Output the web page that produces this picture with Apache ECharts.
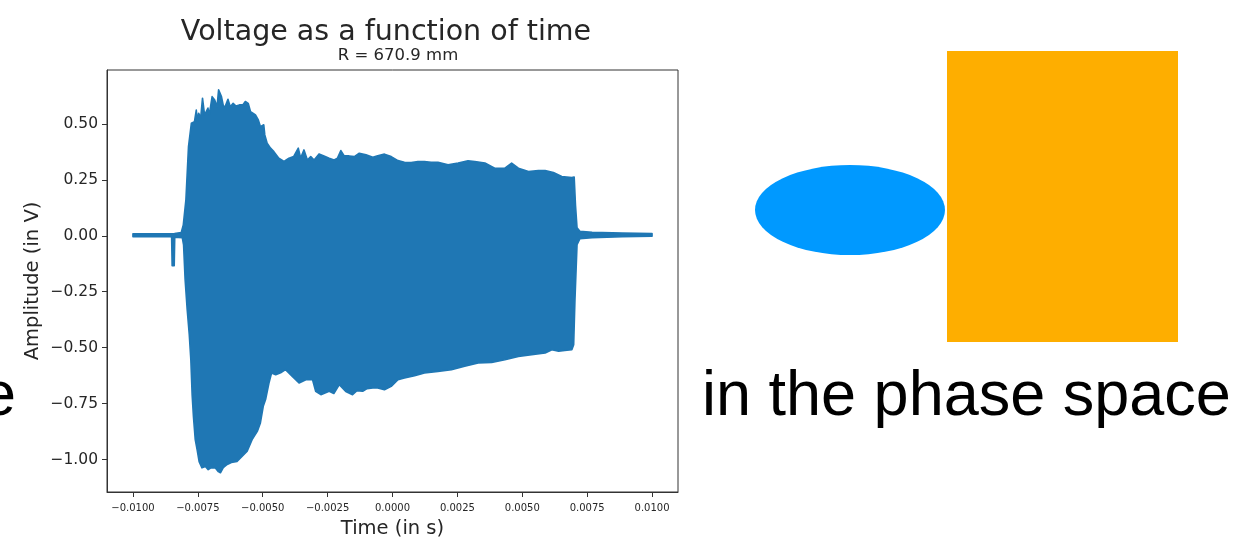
<!DOCTYPE html>
<html>
<head>
<meta charset="utf-8">
<script src="https://cdn.jsdelivr.net/npm/echarts@6/dist/echarts.min.js"></script>
<style>
  html, body { margin: 0; padding: 0; background: #ffffff; }
  #chart { width: 1256px; height: 540px; }
</style>
</head>
<body>
<div id="chart"></div>
<script>
// Upper and lower envelope of the recorded voltage trace (time in s, amplitude in V)
const upperTime = [-0.0100, -0.0090, -0.0084, -0.00814, -0.00806, -0.00796, -0.00786, -0.00775, -0.00763, -0.00756,
  -0.00752, -0.00747, -0.00739, -0.00732, -0.00724, -0.00711, -0.00706, -0.00695, -0.00685, -0.00676,
  -0.00670, -0.00659, -0.00651, -0.00644, -0.00634, -0.00625, -0.00614, -0.00603, -0.00590, -0.00577,
  -0.00567, -0.00556, -0.00547, -0.00538, -0.00528, -0.00517, -0.00509, -0.00496, -0.00492, -0.00483,
  -0.00470, -0.00457, -0.00438, -0.00418, -0.00399, -0.00381, -0.00363, -0.00354, -0.00341, -0.00328,
  -0.00315, -0.00302, -0.00283, -0.00264, -0.00244, -0.00225, -0.00212, -0.00199, -0.00186, -0.00167,
  -0.00147, -0.00128, -0.00102, -0.00076, -0.00057, -0.00031, -0.00005, 0.00021, 0.00046, 0.00072,
  0.00098, 0.00123, 0.00149, 0.00175, 0.00214, 0.00253, 0.00291, 0.00317, 0.00356, 0.00394,
  0.00433, 0.00459, 0.00485, 0.00524, 0.00562, 0.00588, 0.00620, 0.00652, 0.00691, 0.00700,
  0.00705, 0.00711, 0.00722, 0.00769, 0.00885, 0.0100];
const upperVolt = [0.009, 0.009, 0.010, 0.015, 0.049, 0.161, 0.399, 0.503, 0.510, 0.562,
  0.513, 0.548, 0.527, 0.615, 0.540, 0.571, 0.540, 0.622, 0.607, 0.577,
  0.652, 0.622, 0.577, 0.580, 0.610, 0.577, 0.592, 0.580, 0.585, 0.585,
  0.600, 0.592, 0.555, 0.548, 0.540, 0.518, 0.488, 0.496, 0.451, 0.414,
  0.392, 0.376, 0.347, 0.332, 0.347, 0.354, 0.392, 0.348, 0.384, 0.339,
  0.354, 0.339, 0.366, 0.357, 0.347, 0.339, 0.347, 0.381, 0.357, 0.357,
  0.354, 0.369, 0.362, 0.351, 0.358, 0.365, 0.354, 0.336, 0.329, 0.327,
  0.332, 0.332, 0.329, 0.329, 0.317, 0.325, 0.335, 0.332, 0.325, 0.302,
  0.302, 0.325, 0.302, 0.287, 0.292, 0.292, 0.283, 0.265, 0.260, 0.263,
  0.138, 0.036, 0.020, 0.016, 0.012, 0.010];

const lowerTime = [-0.0100, -0.00857, -0.00851, -0.00849, -0.00841, -0.00839, -0.00810, -0.00805, -0.00799, -0.00791,
  -0.00783, -0.00777, -0.00772, -0.00767, -0.00760, -0.00753, -0.00745, -0.00734, -0.00721, -0.00710,
  -0.00698, -0.00683, -0.00671, -0.00663, -0.00652, -0.00637, -0.00621, -0.00599, -0.00579, -0.00560,
  -0.00541, -0.00521, -0.00509, -0.00498, -0.00489, -0.00476, -0.00466, -0.00450, -0.00431, -0.00412,
  -0.00386, -0.00360, -0.00334, -0.00308, -0.00296, -0.00276, -0.00244, -0.00226, -0.00205, -0.00180,
  -0.00154, -0.00137, -0.00115, -0.00098, -0.00076, -0.00057, -0.00031, -0.00005, 0.00021, 0.00046,
  0.00085, 0.00123, 0.00175, 0.00227, 0.00278, 0.00330, 0.00382, 0.00433, 0.00485, 0.00536,
  0.00588, 0.00614, 0.00640, 0.00672, 0.00691, 0.00698, 0.00703, 0.00711, 0.00722, 0.00769,
  0.00885, 0.0100];
const lowerVolt = [-0.004, -0.004, -0.005, -0.134, -0.134, -0.006, -0.008, -0.040, -0.196, -0.330,
  -0.442, -0.554, -0.710, -0.807, -0.911, -0.955, -1.009, -1.037, -1.031, -1.045,
  -1.036, -1.037, -1.054, -1.059, -1.036, -1.022, -1.013, -1.008, -0.985, -0.963,
  -0.911, -0.874, -0.836, -0.762, -0.732, -0.658, -0.613, -0.621, -0.612, -0.598,
  -0.628, -0.658, -0.643, -0.643, -0.695, -0.710, -0.695, -0.705, -0.665, -0.696,
  -0.710, -0.692, -0.695, -0.683, -0.680, -0.680, -0.688, -0.673, -0.643, -0.635,
  -0.625, -0.613, -0.606, -0.598, -0.583, -0.568, -0.566, -0.554, -0.539, -0.531,
  -0.524, -0.509, -0.516, -0.511, -0.509, -0.487, -0.286, -0.040, -0.013, -0.009,
  -0.004, -0.002];

// Tick positions
const timeTicks = [-0.01, -0.0075, -0.005, -0.0025, 0, 0.0025, 0.005, 0.0075, 0.01];
const voltTicks = [-1.0, -0.75, -0.5, -0.25, 0, 0.25, 0.5];

const titleText = 'Voltage as a function of time';
const subtitleText = 'R = 670.9 mm';
const xName = 'Time (in s)';
const yName = 'Amplitude (in V)';
const captionText = 'in the phase space';

function signed(v, digits) {
  const s = Math.abs(v).toFixed(digits);
  return (v < -1e-12 ? '\u2212' : '') + s;
}

const chart = echarts.init(document.getElementById('chart'), null, { renderer: 'canvas' });
const axisFont = 'DejaVu Sans';
const ink = '#262626';
const frame = '#333333';

chart.setOption({
  backgroundColor: '#ffffff',
  animation: false,
  title: [
    { text: titleText, left: 381, top: 13, textAlign: 'center',
      textStyle: { fontFamily: axisFont, fontSize: 28.5, fontWeight: 'normal', color: ink } },
    { text: subtitleText, left: 393, top: 42, textAlign: 'center',
      textStyle: { fontFamily: axisFont, fontSize: 16.5, fontWeight: 'normal', color: ink } }
  ],
  grid: {
    left: 107, right: 578, top: 70, bottom: 48,
    outerBoundsMode: 'none', containLabel: false,
    show: true, borderColor: frame, borderWidth: 1, backgroundColor: 'transparent'
  },
  xAxis: {
    type: 'value', min: -0.011, max: 0.011,
    name: xName, nameLocation: 'middle', nameGap: 27,
    nameTextStyle: { fontFamily: axisFont, fontSize: 19.5, color: ink },
    axisLine: { show: true, onZero: false, lineStyle: { color: frame, width: 1 } },
    axisTick: { show: true, length: 5, customValues: timeTicks, lineStyle: { color: frame } },
    axisLabel: { customValues: timeTicks, margin: 11, fontFamily: axisFont, fontSize: 10, color: ink,
      formatter: v => signed(v, 4) },
    splitLine: { show: false }
  },
  yAxis: {
    type: 'value', min: -1.145, max: 0.741,
    name: yName, nameLocation: 'middle', nameGap: 64, nameRotate: 90,
    nameTextStyle: { fontFamily: axisFont, fontSize: 19.5, color: ink },
    axisLine: { show: true, onZero: false, lineStyle: { color: frame, width: 1 } },
    axisTick: { show: true, length: 5, customValues: voltTicks, lineStyle: { color: frame } },
    axisLabel: { customValues: voltTicks, margin: 9, fontFamily: axisFont, fontSize: 15.5, color: ink,
      formatter: v => signed(v, 2) },
    splitLine: { show: false }
  },
  series: [{
    type: 'custom',
    name: 'voltage',
    data: [[0, 0]],
    encode: { x: 0, y: 1 },
    silent: true,
    renderItem: function (params, api) {
      const pts = [];
      for (let i = 0; i < upperTime.length; i++) pts.push(api.coord([upperTime[i], upperVolt[i]]));
      for (let i = lowerTime.length - 1; i >= 0; i--) pts.push(api.coord([lowerTime[i], lowerVolt[i]]));
      return {
        type: 'polygon',
        shape: { points: pts },
        style: { fill: '#1f77b4', stroke: '#1f77b4', lineWidth: 1.6, lineJoin: 'round' }
      };
    }
  }],
  graphic: [
    { type: 'circle', x: 850, y: 210, scaleY: 45 / 95, shape: { cx: 0, cy: 0, r: 95 },
      style: { fill: '#0099ff' } },
    { type: 'rect', shape: { x: 947, y: 51, width: 231, height: 291 },
      style: { fill: '#feae00' } },
    { type: 'text', x: 702, y: 398,
      style: { text: captionText, font: '63px "Liberation Sans"', fill: '#000', textAlign: 'left', textVerticalAlign: 'middle' } },
    { type: 'text', x: 16, y: 398,
      style: { text: 'e', font: '63px "Liberation Sans"', fill: '#000', textAlign: 'right', textVerticalAlign: 'middle' } }
  ]
});
</script>
</body>
</html>
